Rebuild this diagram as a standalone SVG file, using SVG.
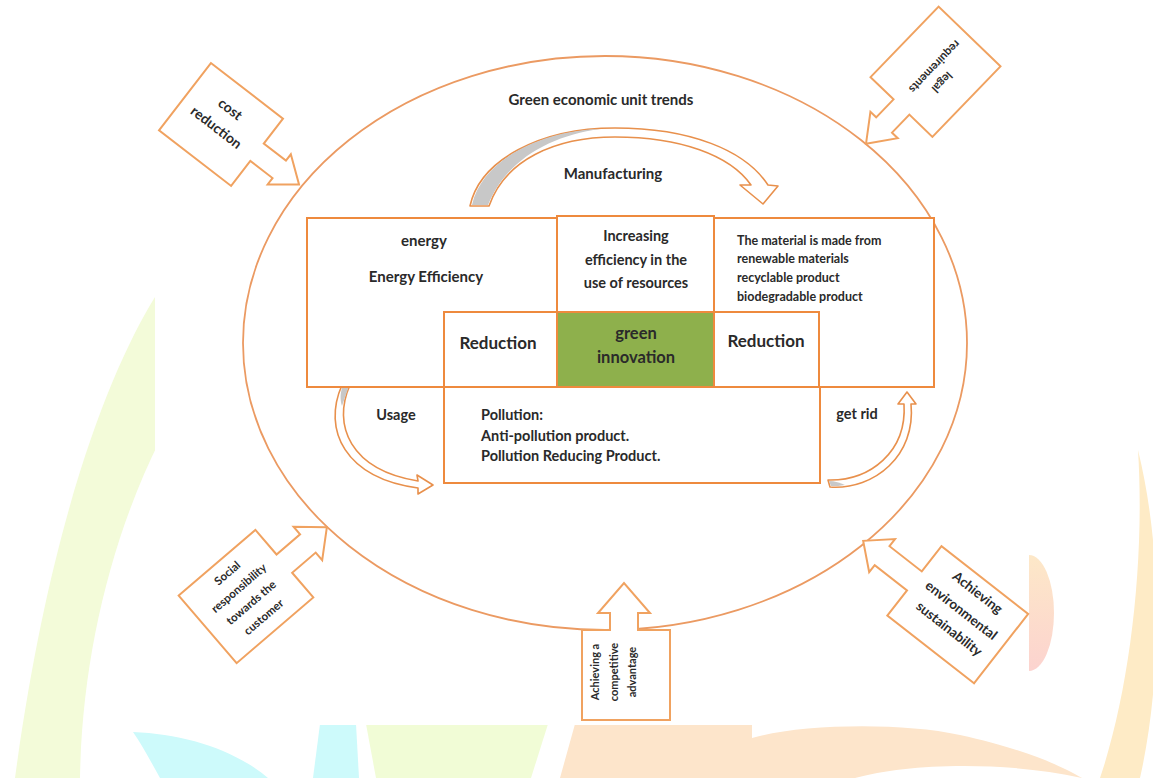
<svg xmlns="http://www.w3.org/2000/svg" width="1153" height="778" viewBox="0 0 1153 778">
<defs>
<style>
.t{font-family:Lato,"Liberation Sans",sans-serif;font-weight:bold;fill:#2a2a2a}
.c{text-anchor:middle}
.box{fill:#fff;stroke:#ee8a3e;stroke-width:2}
.call{fill:#fff;stroke:#f0a260;stroke-width:2;stroke-linejoin:miter}
.carr{fill:#fff;stroke:#e8904c;stroke-width:1.6;stroke-linejoin:round}
.gray{fill:#c8c8c8;stroke:none}
</style>
<linearGradient id="pk" x1="0" y1="0" x2="0" y2="1">
<stop offset="0" stop-color="#fde8c8"/><stop offset="1" stop-color="#fcd3cf"/>
</linearGradient>
</defs>
<rect width="1153" height="778" fill="#fff"/>
<g id="watermark">
<path d="M155 297 C110 370 50 520 15 778 L80 778 C82 660 110 540 160 440 L160 290 Z" fill="#f3fbd9"/>
<path d="M133 732 C185 734 235 750 268 778 L160 778 C150 760 142 745 133 732 Z" fill="#cdfafb"/>
<path d="M320 724 L356 724 L359 778 L313 778 Z" fill="#cdfafb"/>
<path d="M366 724 L548 724 L531 778 L376 778 Z" fill="#f1fcd6"/>
<path d="M575 724 L752 724 L752 738 C800 724 900 722 960 735 C1020 748 1060 765 1082 778 L560 778 Z" fill="#fde5cb"/>
<path d="M855 778 C905 764 1000 760 1082 778 Z" fill="#fff"/>
<path d="M1138 450 C1165 560 1160 690 1140 778 L1100 778 C1130 690 1145 560 1138 450 Z" fill="#feebc6"/>
<ellipse cx="1029" cy="613" rx="25" ry="58" fill="url(#pk)"/>
<rect x="155" y="0" width="874" height="725" fill="#fff"/>
</g>
<g id="outer-ellipse">
<ellipse cx="605" cy="343" rx="362" ry="287" fill="none" stroke="#eb9a62" stroke-width="1.8"/>
<text class="t c" x="601" y="105" font-size="15">Green economic unit trends</text>
</g>
<g id="connectors">
<g id="arrow-manufacturing">
<path class="carr" d="M470 206 C480 160 540 128 615 128 C690 128 745 150 768 185 L778 186 L763 204 L740 185 L751 185 C730 155 680 137 615 137 C555 137 505 160 489 206 Z"/>
<path class="gray" d="M472 205 C482 160 540 131 600 129 C550 136 506 160 488 205 Z"/>
</g>
<g id="arrow-usage">
<path class="carr" d="M350 385 C332 425 350 470 418 481 L417 475 L433 485 L418 494 L418 488 C345 478 322 430 342 385 Z"/>
<path class="gray" d="M343 386 L349 386 C346 394 344 400 342 406 C340 400 340 392 343 386 Z"/>
</g>
<g id="arrow-getrid">
<path class="carr" d="M830 487 C875 490 916 455 911 404 L916 404 L907 392 L898 404 L904 404 C907 452 870 481 828 480 Z"/>
<path class="gray" d="M829 481 L831 486 C836 486 840 486 845 485 C840 483 835 481 829 481 Z"/>
</g>
</g>
<g id="node-energy">
<rect class="box" x="307" y="218" width="250" height="169"/>
<text class="t c" x="424" y="246" font-size="15">energy</text>
<text class="t c" x="426" y="282" font-size="15">Energy Efficiency</text>
</g>
<g id="node-material">
<rect class="box" x="714" y="218" width="220" height="169"/>
<text class="t" x="737" y="245" font-size="12.5">The material is made from</text>
<text class="t" x="737" y="263" font-size="12.5">renewable materials</text>
<text class="t" x="737" y="282" font-size="12.5">recyclable product</text>
<text class="t" x="737" y="301" font-size="12.5">biodegradable product</text>
</g>
<g id="node-resources">
<rect class="box" x="557" y="216" width="157" height="96"/>
<text class="t c" x="636" y="241" font-size="14.5">Increasing</text>
<text class="t c" x="636" y="265" font-size="14.5">efficiency in the</text>
<text class="t c" x="636" y="288" font-size="14.5">use of resources</text>
</g>
<g id="node-pollution">
<rect class="box" x="444" y="387" width="376" height="96"/>
<text class="t" x="481" y="420" font-size="14.5">Pollution:</text>
<text class="t" x="481" y="441" font-size="14.5">Anti-pollution product.</text>
<text class="t" x="481" y="461" font-size="14.5">Pollution Reducing Product.</text>
</g>
<g id="node-reduction-left">
<rect class="box" x="444" y="312" width="113" height="75"/>
<text class="t c" x="498" y="349" font-size="17">Reduction</text>
</g>
<g id="node-reduction-right">
<rect class="box" x="714" y="312" width="105" height="75"/>
<text class="t c" x="766" y="347" font-size="17">Reduction</text>
</g>
<g id="node-green-innovation">
<rect x="557" y="312" width="157" height="75" fill="#8eb04c" stroke="#ee8a3e" stroke-width="2"/>
<text class="t c" x="636" y="339" font-size="16.5">green</text>
<text class="t c" x="636" y="363" font-size="16.5">innovation</text>
</g>
<g id="labels">
<text class="t c" x="396" y="420" font-size="14.5">Usage</text>
<text class="t c" x="613" y="179" font-size="15">Manufacturing</text>
<text class="t c" x="857" y="419" font-size="14.5">get rid</text>
</g>
<g id="node-cost-reduction" transform="translate(221,124.5) rotate(37.6)">
<path class="call" d="M-45.5 -42.5 H45.5 V-11 H73.5 V-19 L98.5 0 L73.5 19 V11 H45.5 V42.5 H-45.5 Z"/>
<text class="t c" x="-2" y="-13" font-size="14">cost</text>
<text class="t c" x="-2" y="10" font-size="14">reduction</text>
</g>
<g id="node-legal" transform="translate(935.5,71.75) rotate(134)">
<path class="call" d="M-49 -43 H49 V-11 H74 V-19 L100 0 L74 19 V11 H49 V43 H-49 Z"/>
<text class="t c" x="3" y="-8" font-size="11.5">legal</text>
<text class="t c" x="-3" y="8" font-size="11.5">requirements</text>
</g>
<g id="node-social" transform="translate(246,596.5) rotate(-40.6)">
<path class="call" d="M-50.5 -44.5 H50.5 V-12 H81.5 V-22 L106.5 0 L81.5 22 V12 H50.5 V44.5 H-50.5 Z"/>
<text class="t c" x="1" y="-26" font-size="11.5">Social</text>
<text class="t c" x="0" y="-7" font-size="11.5">responsibility</text>
<text class="t c" x="0" y="12" font-size="11.5">towards the</text>
<text class="t c" x="0" y="31" font-size="11.5">customer</text>
</g>
<g id="node-competitive">
<path class="call" d="M582 630 L610 630 L610 613 L598 613 L624 583 L650 613 L638 613 L638 630 L670 630 L670 720 L582 720 Z"/>
<g transform="translate(626,672) rotate(-90)">
<text class="t c" x="0" y="-27" font-size="11">Achieving a</text>
<text class="t c" x="0" y="-8" font-size="11">competitive</text>
<text class="t c" x="0" y="10" font-size="11">advantage</text>
</g>
</g>
<g id="node-environmental">
<path class="call" transform="translate(957.75,614.75) rotate(-142)" d="M-55 -44 H55 V-12 H96 V-21 L120 0 L96 21 V12 H55 V44 H-55 Z"/>
<g transform="translate(957.75,614.75) rotate(38)">
<text class="t c" x="2" y="-25" font-size="13.5">Achieving</text>
<text class="t c" x="0" y="-1" font-size="13.5">environmental</text>
<text class="t c" x="2" y="21" font-size="13.5">sustainability</text>
</g>
</g>
</svg>
